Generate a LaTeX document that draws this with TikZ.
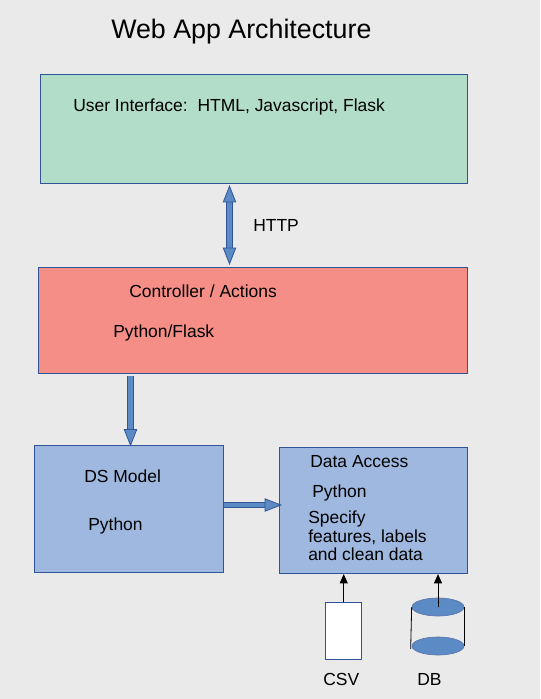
\documentclass[tikz,border=0pt]{standalone}
\usepackage{fontspec}
\setmainfont{Liberation Sans}
\usetikzlibrary{shapes.geometric, arrows.meta, positioning, calc}
\definecolor{pagegray}{HTML}{EAEAEA}
\definecolor{uigreen}{HTML}{B2DDC9}
\definecolor{ctrlred}{HTML}{F68E88}
\definecolor{boxblue}{HTML}{9FB8E0}
\definecolor{edgeblue}{HTML}{2F5597}
\definecolor{midblue}{HTML}{5B8AC5}

\begin{document}
\begin{tikzpicture}[
        x=0.75pt, y=-0.75pt,
        box/.style = {rectangle, draw=edgeblue, line width=0.8pt, anchor=north west, inner sep=0pt},
        txt/.style = {anchor=west, inner sep=0pt, font=\fontsize{13.1}{14}\selectfont},
        disc/.style = {ellipse, draw=edgeblue!80, fill=midblue, line width=0.5pt, minimum width=39pt, minimum height=13.5pt, inner sep=0pt},
        blockline/.style = {draw=edgeblue, double=midblue, line width=0.7pt, double distance=3.2pt, >={Triangle[length=13pt, width=10pt, line width=0.6pt, fill=midblue]}},
        thinline/.style = {draw=black, line width=0.7pt, -{Triangle[length=7pt, width=6pt]}}
    ]
    \useasboundingbox[fill=pagegray] (0,0) rectangle (540,699);

    % Title
    \node [txt, font=\fontsize{20.1}{24}\selectfont] (title) at (111,32) {Web App Architecture};

    % Boxes
    \node [box, fill=uigreen, minimum width=319.7pt, minimum height=81.75pt] (ui) at (40.4,74) {};
    \node [box, fill=ctrlred, minimum width=321.2pt, minimum height=79.5pt, below=62.5pt of ui.south east, anchor=north east] (ctrl) {};
    \node [box, fill=boxblue, minimum width=141.2pt, minimum height=95.25pt] (model) at (34.4,445) {};
    \node [box, fill=boxblue, minimum width=141pt, minimum height=94.5pt] (access) at (279,447) {};

    % Sources
    \node [box, fill=white, minimum width=27pt, minimum height=42.75pt] (csv) at (325.2,602) {};
    \node [disc] (dbtop) at (438,607) {};
    \node [disc] (dbbot) at (438,646) {};

    % Texts
    \node [txt] (uitext) at (73,107) {User Interface:\ \ HTML, Javascript, Flask};
    \node [txt] (http) at (253,225) {HTTP};
    \node [txt] (ctrltext) at (129,291) {Controller / Actions};
    \node [txt] (ctrllang) at (113,333) {Python/Flask};
    \node [txt] (modeltext) at (84,476) {DS Model};
    \node [txt] (modellang) at (88,526) {Python};
    \node [txt] (accesstext) at (310,462) {Data Access};
    \node [txt] (accesslang) at (312,493) {Python};
    \node [txt, align=left] (accessnote) at (308,536) {Specify\\features, labels\\and clean data};
    \node [txt] (csvtext) at (323,679) {CSV};
    \node [txt] (dbtext) at (417,679) {DB};

    % Block arrows
    \coordinate (httptop) at (229.5,185);
    \coordinate (httpbot) at (229.5,265);
    \coordinate (downtop) at (130.5,376);
    \coordinate (downbot) at (130.5,446.5);
    \coordinate (sidetip) at (282,505);
    \draw [blockline, <->] (httptop) -- (httpbot);
    \draw [blockline, ->] (downtop) -- (downbot);
    \draw [blockline, ->] (model.east |- sidetip) -- (sidetip);

    % Source arrows
    \draw [thinline] (csv.north) -- (csv.north |- access.south);
    \draw [thinline] (dbtop.center) -- (dbtop.center |- access.south);

    % Cylinder sides
    \draw [black, line width=0.6pt] (dbtop.west) -- ($(dbbot.west)+(-1,3)$);
    \draw [black, line width=0.8pt] (dbtop.east) -- (dbbot.east);
\end{tikzpicture}
\end{document}
